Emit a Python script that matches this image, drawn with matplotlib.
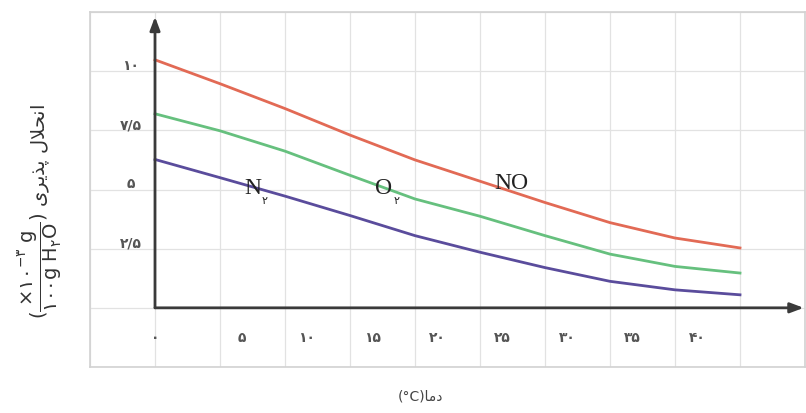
import matplotlib
matplotlib.use("Agg")
import matplotlib.pyplot as plt
import matplotlib.transforms as mtransforms

# ---- data ----
temps = [0, 5, 10, 15, 20, 25, 30, 35, 40, 45]
no_vals = [10.48, 9.47, 8.42, 7.3, 6.25, 5.35, 4.45, 3.6, 2.95, 2.53]
o2_vals = [8.2, 7.48, 6.62, 5.6, 4.6, 3.87, 3.05, 2.27, 1.75, 1.47]
n2_vals = [6.27, 5.5, 4.72, 3.9, 3.05, 2.35, 1.7, 1.12, 0.76, 0.55]

x_ticks = [0, 5, 10, 15, 20, 25, 30, 35, 40]
x_tick_labels = ['۰', '۵', '۱۰', '۱۵', '۲۰', '۲۵', '۳۰', '۳۵', '۴۰']
y_ticks = [2.5, 5, 7.5, 10]
y_tick_labels = ['۲/۵', '۵', '۷/۵', '۱۰']

# shaped (presentation forms, visual order) Persian labels
x_label = '(°C)' + '\uFE8E\uFEE3\uFEA9'                     # دما
word = '\uFBFC\uFEAE\uFBFE\uFEAC\uFB58' + ' ' + '\uFEDD\uFEFC\uFEA4\uFEE7\uFE8D'  # انحلال پذیری

W, H = 806, 414
fig = plt.figure(figsize=(W / 100, H / 100), dpi=100)
fig.patch.set_facecolor('white')
ax = fig.add_axes([90 / W, (H - 368) / H, (805 - 90) / W, (368 - 13) / H])
ax.set_xlim(-5, 50)
ax.set_ylim(-2.5, 12.5)

# grid
for gx in range(-5, 51, 5):
    ax.axvline(gx, color='#e2e2e2', lw=0.9, zorder=0)
for k in range(0, 7):
    ax.axhline(-2.5 + 2.5 * k, color='#e2e2e2', lw=0.9, zorder=0)
for s in ax.spines.values():
    s.set_color('#d2d2d2')
    s.set_linewidth(1.2)
ax.set_xticks([])
ax.set_yticks([])

# axes with arrows
ax.annotate('', xy=(49.9, 0), xytext=(0, 0),
            arrowprops=dict(arrowstyle='-|>,head_length=0.8,head_width=0.3', color='#3a3a3a', lw=2.0,
                            shrinkA=0, shrinkB=0), zorder=3)
ax.annotate('', xy=(0, 12.3), xytext=(0, 0),
            arrowprops=dict(arrowstyle='-|>,head_length=0.8,head_width=0.3', color='#3a3a3a', lw=2.0,
                            shrinkA=0, shrinkB=0), zorder=3)

# curves
ax.plot(temps, no_vals, color='#e26a55', lw=2.0, zorder=2)
ax.plot(temps, o2_vals, color='#66c07e', lw=2.0, zorder=2)
ax.plot(temps, n2_vals, color='#5a4c9c', lw=2.0, zorder=2)

# tick labels
fa_font = ['DejaVu Sans']
shift_r = mtransforms.ScaledTranslation(22 / 100, 0, fig.dpi_scale_trans)
for t, lab in zip(x_ticks, x_tick_labels):
    tr = ax.transData if t == 0 else ax.transData + shift_r
    ax.text(t, -1.23, lab, transform=tr, ha='center', va='center',
            fontsize=10, color='#555555', family=fa_font, fontweight='bold')
shift_u = mtransforms.ScaledTranslation(0, 6 / 100, fig.dpi_scale_trans)
for v, lab in zip(y_ticks, y_tick_labels):
    ax.text(-1.85, v, lab, transform=ax.transData + shift_u, ha='center', va='center',
            fontsize=10, color='#555555', family=fa_font, fontweight='bold')

# curve labels
serif = ['Liberation Serif', 'DejaVu Serif']
ax.text(7.5, 5.1, 'N', fontsize=17, family=serif, color='#222222', ha='center', va='center')
ax.text(8.45, 4.55, '۲', fontsize=8, family=fa_font, color='#222222', ha='center', va='center')
ax.text(17.6, 5.1, 'O', fontsize=17, family=serif, color='#222222', ha='center', va='center')
ax.text(18.55, 4.55, '۲', fontsize=8, family=fa_font, color='#222222', ha='center', va='center')
ax.text(27.4, 5.3, 'NO', fontsize=17, family=serif, color='#222222', ha='center', va='center')

# axis titles
fig.text(420 / W, 1 - 397 / H, x_label, ha='center', va='center', fontsize=10,
         color='#444444', family=fa_font)
ylab = r'($\dfrac{\times ۱۰^{-۳}\ \mathrm{g}}{۱۰۰\mathrm{g}\ \mathrm{H_۲O}}$) ' + word
fig.text(40 / W, 1 - 212 / H, ylab, rotation=90, ha='center', va='center', fontsize=14,
         color='#333333', family=fa_font)

fig.savefig('out.png', dpi=100, facecolor='white')
